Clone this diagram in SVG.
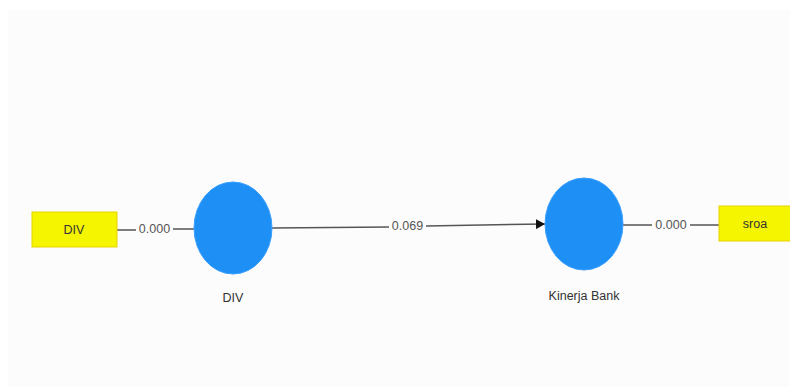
<svg xmlns="http://www.w3.org/2000/svg" width="790" height="387" viewBox="0 0 790 387">
<defs>
<style>
.ind{fill:#f5f500;stroke:#e6d200;stroke-width:1}
.lv{fill:#1e8ff5;stroke:#3aa0ff;stroke-width:1}
.t{font-family:"Liberation Sans",Arial,sans-serif;font-size:12.5px;fill:#333;text-anchor:middle;dominant-baseline:central}
.e{stroke:#555;stroke-width:1.5;fill:none}
.lbl{font-family:"Liberation Sans",Arial,sans-serif;font-size:12.5px;fill:#555;text-anchor:middle;dominant-baseline:central}
</style>
<marker id="arr" markerWidth="10" markerHeight="10" refX="9" refY="5" orient="auto" markerUnits="userSpaceOnUse">
<path d="M0,0 L9,5 L0,10 Z" fill="#111"/>
</marker>
</defs>
<rect x="0" y="0" width="790" height="387" fill="#ffffff"/>
<rect x="8" y="10" width="782" height="377" fill="#fcfcfc"/>
<g id="connectors">
<line class="e" x1="117" y1="230" x2="136" y2="230"/>
<line class="e" x1="173" y1="229" x2="194" y2="229"/>
<text class="lbl" x="154.5" y="229">0.000</text>
<line class="e" x1="272" y1="228" x2="389" y2="227"/>
<line class="e" x1="426" y1="226" x2="545" y2="224" marker-end="url(#arr)"/>
<text class="lbl" x="407.5" y="226">0.069</text>
<line class="e" x1="623" y1="225" x2="652" y2="225"/>
<line class="e" x1="690" y1="225" x2="719" y2="225"/>
<text class="lbl" x="671" y="225">0.000</text>
</g>
<g id="ind-DIV">
<rect class="ind" x="32" y="212" width="85" height="35"/>
<text class="t" x="74" y="230">DIV</text>
</g>
<g id="lv-DIV">
<ellipse class="lv" cx="233" cy="228" rx="39" ry="46"/>
<text class="t" x="233" y="298">DIV</text>
</g>
<g id="lv-Kinerja">
<ellipse class="lv" cx="584" cy="224" rx="39" ry="46"/>
<text class="t" x="584" y="296">Kinerja Bank</text>
</g>
<g id="ind-sroa">
<rect class="ind" x="719" y="206" width="80" height="35"/>
<text class="t" x="755" y="224">sroa</text>
</g>
</svg>
